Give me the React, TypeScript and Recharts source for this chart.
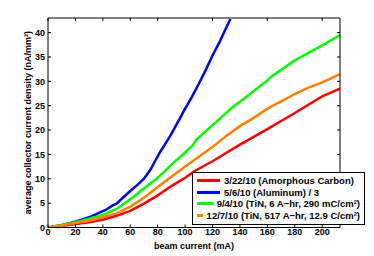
import { FC } from 'react';
import { Line, LineChart, XAxis, YAxis } from 'recharts';

const carbonCurrent = [0, 10, 20, 30, 40, 50, 60, 70, 80, 90, 100, 107, 120, 140, 160, 180, 200, 213];
const carbonDensity = [0, 0.3, 0.7, 1.1, 1.6, 2.4, 3.4, 4.9, 6.6, 8.5, 10.2, 11.6, 13.6, 17, 20.2, 23.5, 26.9, 28.5];

const aluminumCurrent = [0, 10, 20, 30, 38, 42, 47, 50, 55, 60, 65, 70, 75, 78, 82, 85, 90, 95, 100, 105, 110, 115, 120, 125, 130, 133];
const aluminumDensity = [0, 0.5, 1.2, 2.1, 3.1, 3.6, 4.5, 4.9, 6.2, 7.5, 8.7, 10, 12, 13.6, 15.6, 16.9, 19.2, 21.8, 24.4, 26.8, 29.5, 32.3, 35.3, 38, 41, 42.8];

const tin6Current = [0, 10, 20, 30, 40, 50, 60, 70, 80, 90, 100, 106, 108, 120, 135, 140, 160, 163, 180, 200, 213];
const tin6Density = [0, 0.5, 1.1, 1.8, 2.6, 3.8, 5.8, 8, 10.2, 12.9, 15.4, 17, 18, 21, 24.8, 25.8, 30.2, 31, 34.3, 37.4, 39.5];

const tin517Current = [0, 10, 20, 30, 40, 50, 60, 70, 80, 90, 100, 110, 120, 130, 140, 150, 160, 170, 180, 190, 200, 213];
const tin517Density = [0, 0.4, 0.9, 1.4, 2.1, 2.9, 4.3, 6.1, 8.3, 10.4, 12.5, 14.5, 16.5, 18.8, 20.8, 22.5, 24.4, 25.9, 27.4, 28.7, 29.8, 31.5];

const xTicks = [0, 20, 40, 60, 80, 100, 120, 140, 160, 180, 200];
const yTicks = [0, 5, 10, 15, 20, 25, 30, 35, 40];

const zip = (xs: number[], ys: number[]) => xs.map((x, i) => ({ x, y: ys[i] }));

const series = [
    { name: '3/22/10 (Amorphous Carbon)', color: '#ff0000', data: zip(carbonCurrent, carbonDensity) },
    { name: '5/6/10 (Aluminum) / 3', color: '#0000ff', data: zip(aluminumCurrent, aluminumDensity) },
    { name: '9/4/10 (TiN, 6 A\u2212hr, 290 mC/cm\u00b2)', color: '#00ff00', data: zip(tin6Current, tin6Density) },
    { name: '12/7/10 (TiN, 517 A\u2212hr, 12.9 C/cm\u00b2)', color: '#ff8000', data: zip(tin517Current, tin517Density) },
];

const font = '"Liberation Sans", Arial, sans-serif';
const tickStyle = { fontSize: 9, fontWeight: 'bold', fill: '#000', fontFamily: font };

const LegendBox: FC = () => (
    <div
        style={{
            position: 'absolute',
            left: 192,
            top: 172,
            width: 173,
            height: 53,
            border: '1px solid #000',
            background: '#fff',
            padding: '2px 4px',
            fontFamily: font,
            fontSize: 9.5,
            fontWeight: 'bold',
            lineHeight: '11.5px',
            boxSizing: 'border-box',
        }}
    >
        {series.map((s) => (
            <div key={s.name} style={{ display: 'flex', alignItems: 'center', whiteSpace: 'nowrap' }}>
                <span style={{ display: 'inline-block', width: 23, height: 3, background: s.color, marginRight: 4 }} />
                <span>{s.name}</span>
            </div>
        ))}
    </div>
);

const hideLabel = () => <g />;

export default function App() {
    return (
        <div style={{ position: 'absolute', left: 0, top: 0, width: 374, height: 256, background: '#fff' }}>
            <LineChart width={374} height={256} margin={{ top: 18, right: 34, bottom: 0, left: 0 }}>
                <XAxis
                    type='number'
                    dataKey='x'
                    domain={[0, 213]}
                    allowDataOverflow
                    ticks={xTicks}
                    height={28.5}
                    tickSize={-3}
                    tickMargin={4}
                    tick={tickStyle}
                    stroke='#000'
                    label={{
                        value: 'beam current (mA)',
                        position: 'insideBottom',
                        offset: 7,
                        style: { ...tickStyle, textAnchor: 'middle' },
                    }}
                />
                <XAxis
                    xAxisId='top'
                    orientation='top'
                    type='number'
                    dataKey='x'
                    domain={[0, 213]}
                    allowDataOverflow
                    ticks={xTicks}
                    height={1}
                    mirror
                    tickSize={3}
                    tick={hideLabel}
                    stroke='#000'
                />
                <YAxis
                    type='number'
                    domain={[0, 43]}
                    allowDataOverflow
                    ticks={yTicks}
                    width={48}
                    tickSize={-3}
                    tickMargin={6}
                    tick={tickStyle}
                    stroke='#000'
                    label={{
                        value: 'average collector current density (nA/mm\u00b2)',
                        angle: -90,
                        position: 'insideLeft',
                        offset: 28,
                        style: { ...tickStyle, textAnchor: 'middle' },
                    }}
                />
                <YAxis
                    yAxisId='right'
                    orientation='right'
                    type='number'
                    domain={[0, 43]}
                    allowDataOverflow
                    ticks={yTicks}
                    width={1}
                    mirror
                    tickSize={3}
                    tick={hideLabel}
                    stroke='#000'
                />
                {series.map((s) => (
                    <Line
                        key={s.name}
                        data={s.data}
                        dataKey='y'
                        name={s.name}
                        type='linear'
                        stroke={s.color}
                        strokeWidth={2.5}
                        dot={false}
                        isAnimationActive={false}
                    />
                ))}
                <Line
                    data={series[0].data}
                    dataKey='y'
                    xAxisId='top'
                    yAxisId='right'
                    stroke='none'
                    dot={false}
                    activeDot={false}
                    legendType='none'
                    isAnimationActive={false}
                />
            </LineChart>
            <LegendBox />
        </div>
    );
}
